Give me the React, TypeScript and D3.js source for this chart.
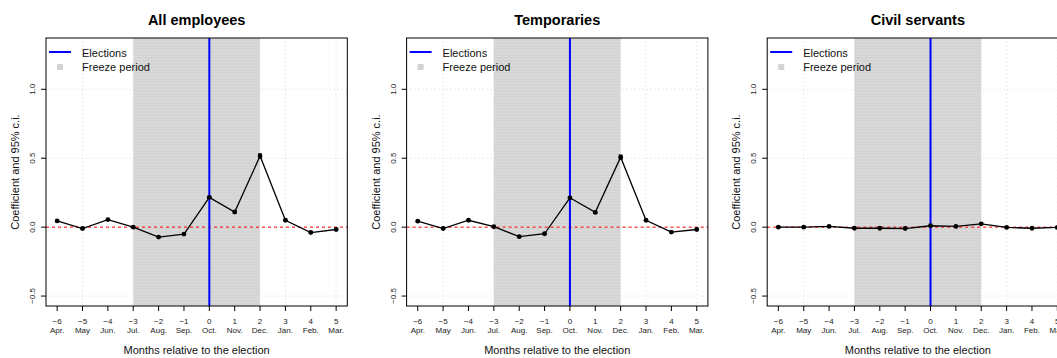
import React from "react";
import * as d3 from "d3";

const months = [-6, -5, -4, -3, -2, -1, 0, 1, 2, 3, 4, 5];
const monthNames = ["Apr.", "May", "Jun.", "Jul.", "Aug.", "Sep.", "Oct.", "Nov.", "Dec.", "Jan.", "Feb.", "Mar."];
const titles = ["All employees", "Temporaries", "Civil servants"];
const allEmployees = [0.045, -0.01, 0.055, 0.0, -0.072, -0.05, 0.216, 0.11, 0.516, 0.05, -0.039, -0.017];
const temporaries = [0.043, -0.01, 0.05, 0.003, -0.069, -0.048, 0.213, 0.107, 0.507, 0.05, -0.036, -0.017];
const civilServants = [0.0, 0.0, 0.005, -0.008, -0.008, -0.01, 0.01, 0.005, 0.024, -0.002, -0.008, -0.002];
const ciHalf = [0.006, 0.005, 0.005, 0.004, 0.005, 0.005, 0.008, 0.008, 0.016, 0.006, 0.005, 0.005];
const ciHalfCivil = [0.003, 0.003, 0.003, 0.003, 0.003, 0.003, 0.003, 0.003, 0.004, 0.003, 0.003, 0.003];
const yTicks = [-0.5, 0.0, 0.5, 1.0];
const gridX = [-5, -3, -1, 1, 3, 5];
const freeze = [-3, 2];
const electionMonth = 0;

const seriesList = [allEmployees, temporaries, civilServants];
const ciList = [ciHalf, ciHalf, ciHalfCivil];

const W = 1057;
const H = 358;
const PANEL = 360.6;
const font = "'Liberation Sans', Arial, Helvetica, sans-serif";

function Panel({ i }: { i: number }) {
  const off = i * PANEL;
  const left = 46 + off;
  const right = 347.3 + off;
  const top = 38;
  const bottom = 306;
  const x = d3.scaleLinear().domain([-6.44, 5.44]).range([left, right]);
  const y = d3.scaleLinear().domain([-0.572, 1.372]).range([bottom, top]);
  const vals = seriesList[i];
  const ci = ciList[i];
  const line = d3
    .line<number>()
    .x((_, k) => x(months[k]))
    .y((v) => y(v));
  const cx = (left + right) / 2;
  const cy = (top + bottom) / 2;
  return (
    <g>
      {/* grid */}
      {gridX.map((g) => (
        <line key={"gx" + g} x1={x(g)} x2={x(g)} y1={top} y2={bottom} stroke="#d9d9d9" strokeWidth={1} strokeDasharray="1,3" />
      ))}
      {yTicks.map((t) => (
        <line key={"gy" + t} x1={left} x2={right} y1={y(t)} y2={y(t)} stroke="#d9d9d9" strokeWidth={1} strokeDasharray="1,3" />
      ))}
      {/* freeze shade */}
      <rect x={x(freeze[0])} y={top} width={x(freeze[1]) - x(freeze[0])} height={bottom - top} fill="url(#shade)" />
      {/* zero line */}
      <line x1={left} x2={right} y1={y(0)} y2={y(0)} stroke="#ff0000" strokeWidth={1} strokeDasharray="3,3" />
      {/* election */}
      <line x1={x(electionMonth)} x2={x(electionMonth)} y1={top} y2={bottom} stroke="#0000ff" strokeWidth={2} />
      {/* series */}
      <path d={line(vals) || ""} fill="none" stroke="#000" strokeWidth={1.3} />
      {vals.map((v, k) => (
        <g key={"p" + k}>
          <line x1={x(months[k])} x2={x(months[k])} y1={y(v - ci[k])} y2={y(v + ci[k])} stroke="#000" strokeWidth={1.2} />
          <line x1={x(months[k]) - 2} x2={x(months[k]) + 2} y1={y(v - ci[k])} y2={y(v - ci[k])} stroke="#000" strokeWidth={1} />
          <line x1={x(months[k]) - 2} x2={x(months[k]) + 2} y1={y(v + ci[k])} y2={y(v + ci[k])} stroke="#000" strokeWidth={1} />
          <circle cx={x(months[k])} cy={y(v)} r={2.4} fill="#000" />
        </g>
      ))}
      {/* box */}
      <rect x={left} y={top} width={right - left} height={bottom - top} fill="none" stroke="#000" strokeWidth={1} />
      {/* y axis */}
      {yTicks.map((t) => (
        <g key={"yt" + t}>
          <line x1={left - 5} x2={left} y1={y(t)} y2={y(t)} stroke="#000" />
          <text
            transform={`translate(${left - 11},${y(t)}) rotate(-90)`}
            textAnchor="middle"
            fontSize={8}
            fontFamily={font}
            fill="#222"
          >
            {t === 0 ? "0.0" : t.toFixed(1).replace("-", "\u2212")}
          </text>
        </g>
      ))}
      <text
        transform={`translate(${left - 27},${cy}) rotate(-90)`}
        textAnchor="middle"
        fontSize={11}
        fontFamily={font}
        fill="#111"
      >
        Coefficient and 95% c.i.
      </text>
      {/* x axis */}
      {months.map((m, k) => (
        <g key={"xt" + m}>
          <line x1={x(m)} x2={x(m)} y1={bottom} y2={bottom + 5} stroke="#000" />
          <text x={x(m)} y={bottom + 18} textAnchor="middle" fontSize={8} fontFamily={font} fill="#222">
            {m < 0 ? "\u2212" + Math.abs(m) : String(m)}
          </text>
          <text x={x(m)} y={bottom + 26.5} textAnchor="middle" fontSize={8} fontFamily={font} fill="#222">
            {monthNames[k]}
          </text>
        </g>
      ))}
      <text x={cx} y={bottom + 48} textAnchor="middle" fontSize={11} fontFamily={font} fill="#111">
        Months relative to the election
      </text>
      {/* title */}
      <text x={cx} y={25} textAnchor="middle" fontSize={14.5} fontWeight="bold" fontFamily={font} fill="#000">
        {titles[i]}
      </text>
      {/* legend */}
      <line x1={left + 3} x2={left + 25} y1={52} y2={52} stroke="#0000ff" strokeWidth={2} />
      <text x={left + 36} y={56.5} fontSize={11} fontFamily={font} fill="#111">
        Elections
      </text>
      <rect x={left + 11} y={64} width={6} height={6} fill="#d3d3d3" />
      <text x={left + 36} y={70.5} fontSize={11} fontFamily={font} fill="#111">
        Freeze period
      </text>
    </g>
  );
}

export default function App() {
  return (
    <svg width={W} height={H} style={{ display: "block", position: "absolute", left: 0, top: 0 }}>
      <defs>
        <pattern id="shade" width={4} height={3} patternUnits="userSpaceOnUse">
          <rect width={4} height={3} fill="#d4d4d4" />
          <rect y={2} width={4} height={1} fill="#dadada" />
        </pattern>
      </defs>
      <rect width={W} height={H} fill="#fff" />
      {[0, 1, 2].map((i) => (
        <Panel key={i} i={i} />
      ))}
    </svg>
  );
}
